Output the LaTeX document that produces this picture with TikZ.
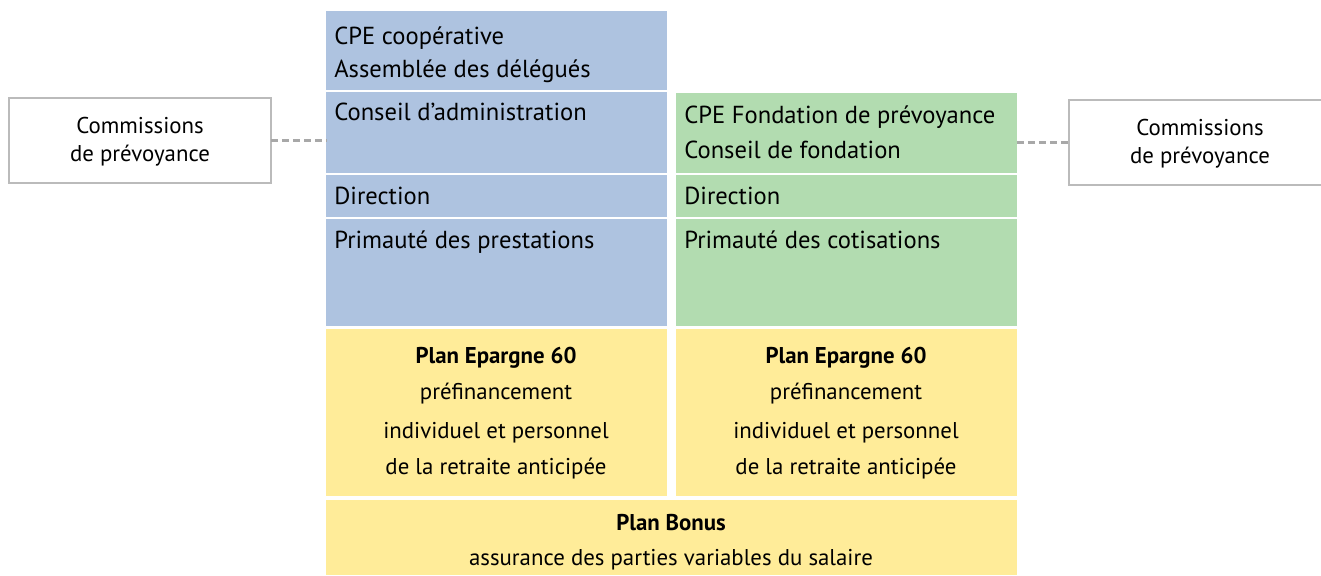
\documentclass[tikz,border=0pt]{standalone}
\usepackage{fontspec}
\setmainfont{PT Sans}
\usetikzlibrary{positioning}
\definecolor{cpeblue}{HTML}{AEC3E0}
\definecolor{cpegreen}{HTML}{B2DCB0}
\definecolor{planyellow}{HTML}{FFEC99}
\definecolor{boxgray}{HTML}{BBBBBB}
\definecolor{linegray}{HTML}{A8A8A8}
\tikzset{
  blk/.style={anchor=north west, inner sep=0pt, outer sep=0pt, minimum width=6.82cm},
  blueblk/.style={blk, fill=cpeblue},
  greenblk/.style={blk, fill=cpegreen},
  yellowblk/.style={blk, fill=planyellow},
  commbox/.style={anchor=north west, inner sep=0pt, outer sep=0pt, draw=boxgray, line width=1.1pt,
    minimum width=5.24cm, minimum height=1.7cm},
  txt/.style={anchor=base west, inner sep=0pt, font=\fontsize{14}{17}\selectfont},
  ctxt/.style={anchor=base, inner sep=0pt, font=\fontsize{13}{16}\selectfont},
  title/.style={ctxt, font=\fontsize{13}{16}\selectfont\bfseries},
  link/.style={linegray, line width=1.2pt, dash pattern=on 0.14cm off 0.08cm}
}
\begin{document}
\begin{tikzpicture}[x=0.02cm, y=-0.02cm]
	\useasboundingbox (0,0) rectangle (1321,575);
	% CPE cooperative
	\node[blueblk, minimum height=1.58cm] (b1) at (326,11) {};
	\node[blueblk, minimum height=1.62cm] (b2) at (326,92) {};
	\node[blueblk, minimum height=0.84cm] (b3) at (326,175) {};
	\node[blueblk, minimum height=2.14cm] (b4) at (326,219) {};
	\node[txt] (b1a) at (334,44) {CPE coopérative};
	\node[txt] (b1b) at (334,77) {Assemblée des délégués};
	\node[txt] (b2a) at (334,120) {Conseil d’administration};
	\node[txt] (b3a) at (334,204) {Direction};
	\node[txt] (b4a) at (334,248) {Primauté des prestations};
	% CPE fondation
	\node[greenblk, minimum height=1.60cm] (g1) at (676,93) {};
	\node[greenblk, minimum height=0.84cm] (g2) at (676,175) {};
	\node[greenblk, minimum height=2.14cm] (g3) at (676,219) {};
	\node[txt] (g1a) at (684,123) {CPE Fondation de prévoyance};
	\node[txt] (g1b) at (684,158) {Conseil de fondation};
	\node[txt] (g2a) at (684,204) {Direction};
	\node[txt] (g3a) at (684,248) {Primauté des cotisations};
	% plans
	\node[yellowblk, minimum height=3.34cm] (y1) at (326,329) {};
	\node[yellowblk, minimum height=3.34cm] (y2) at (676,329) {};
	\node[yellowblk, minimum width=13.82cm, minimum height=1.5cm] (y3) at (326,500) {};
	\node[title] (y1a) at (496,363) {Plan Epargne 60};
	\node[ctxt] (y1b) at (496,399) {préfinancement};
	\node[ctxt] (y1c) at (496,438) {individuel et personnel};
	\node[ctxt] (y1d) at (496,474) {de la retraite anticipée};
	\node[title] (y2a) at (846,363) {Plan Epargne 60};
	\node[ctxt] (y2b) at (846,399) {préfinancement};
	\node[ctxt] (y2c) at (846,438) {individuel et personnel};
	\node[ctxt] (y2d) at (846,474) {de la retraite anticipée};
	\node[title] (y3a) at (671,530) {Plan Bonus};
	\node[ctxt] (y3b) at (671,565) {assurance des parties variables du salaire};
	% commissions
	\node[commbox] (cl) at (9,98) {};
	\node[ctxt] (cla) at (140,133) {Commissions};
	\node[ctxt] (clb) at (140,161) {de prévoyance};
	\node[commbox] (cr) at (1069,100) {};
	\node[ctxt] (cra) at (1200,135) {Commissions};
	\node[ctxt] (crb) at (1200,163) {de prévoyance};
	\draw[link] (cl.east) -- (cl.east -| b2.west);
	\draw[link] (cr.west -| g1.east) -- (cr.west);
\end{tikzpicture}
\end{document}
